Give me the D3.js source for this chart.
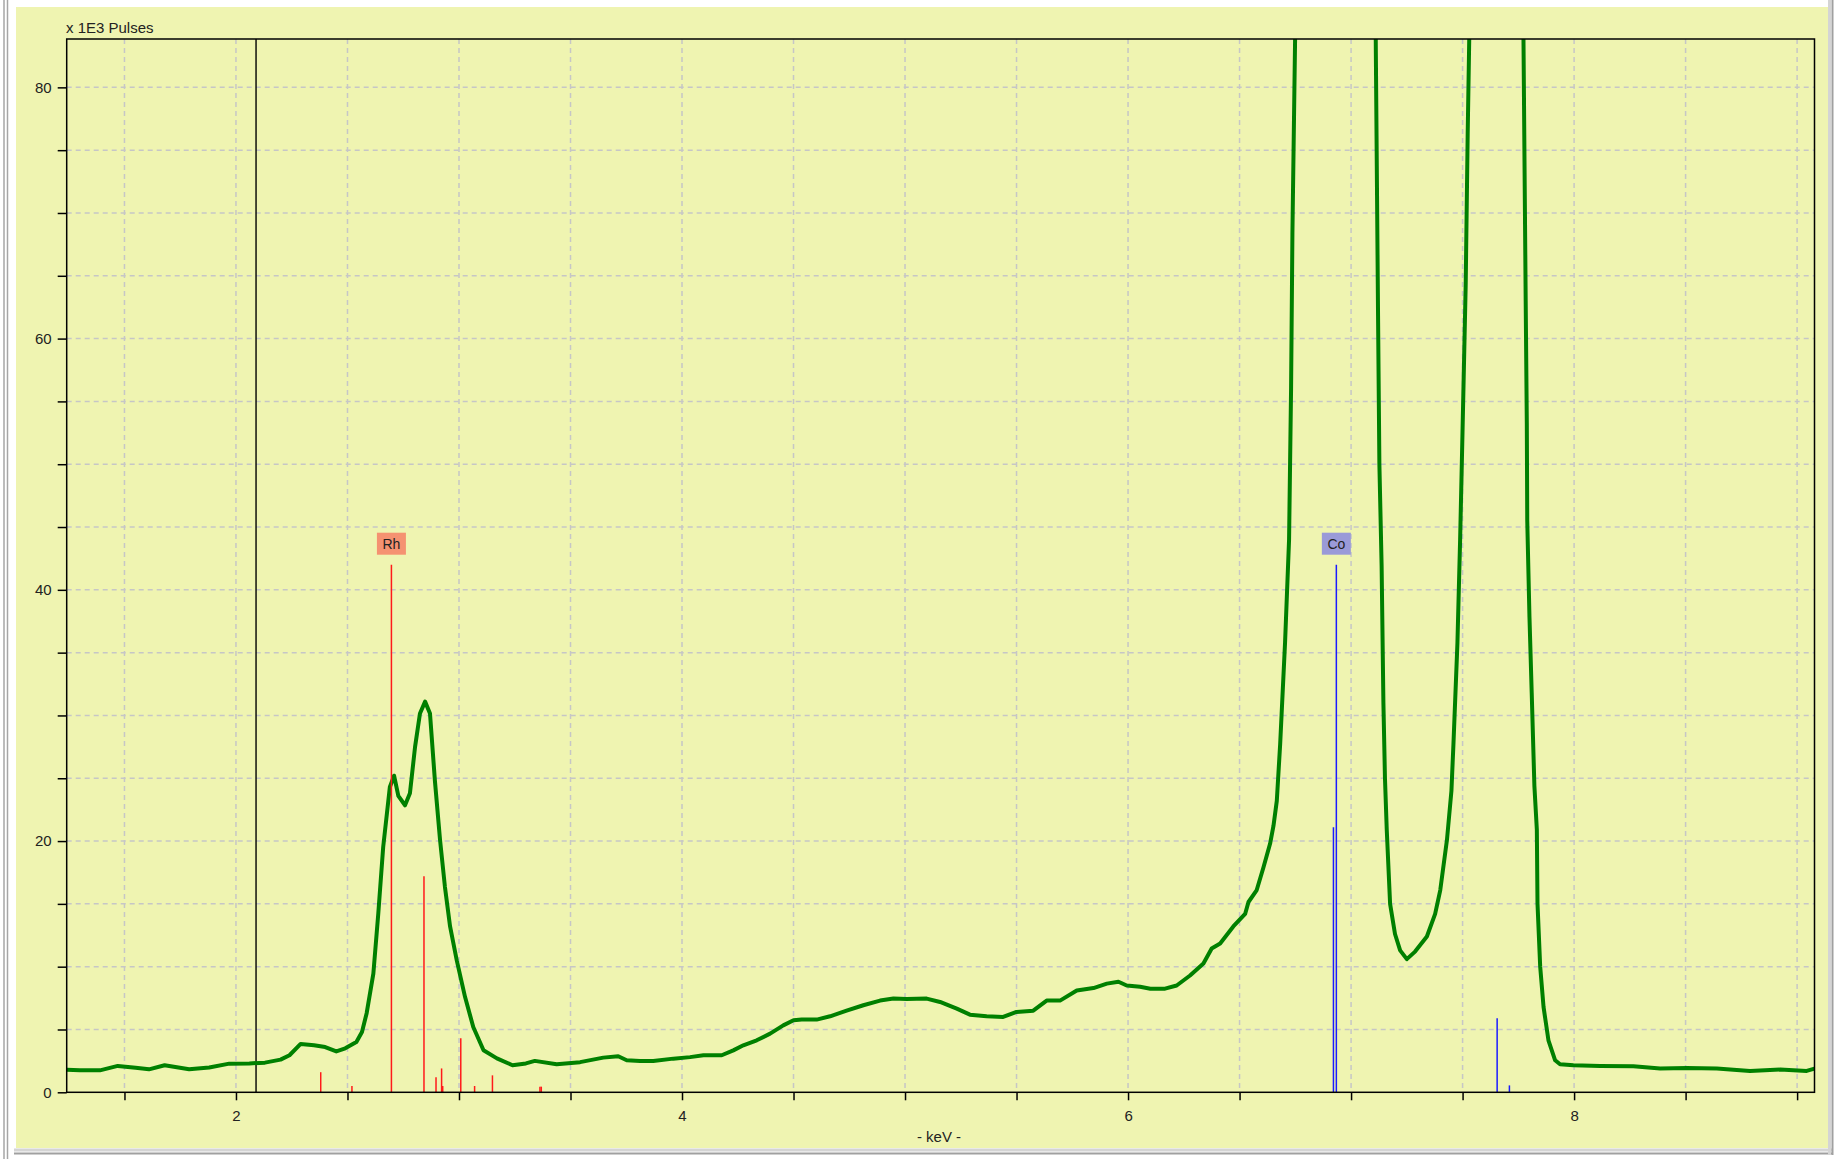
<!DOCTYPE html>
<html>
<head>
<meta charset="utf-8">
<script src="https://cdn.jsdelivr.net/npm/d3@7"></script>
<style>
  body { margin: 0; background: #fff; }
  svg { display: block; font-family: "Liberation Sans", Arial, sans-serif; }
</style>
</head>
<body>
<div id="container"></div>
<script>
/* CONSTANTS AND GLOBALS */
const width = 1839;
const height = 1159;
const margin = ({top: 39, right: 24.5, bottom: 66.7, left: 66.7});

/* DATA (counts in 1E3 pulses) */
const spectrumKeV = [
  1.241, 1.30, 1.39, 1.47, 1.55, 1.61, 1.68, 1.79, 1.88, 1.97, 2.06, 2.13, 2.20, 2.24,
  2.29, 2.35, 2.40, 2.45, 2.49, 2.54, 2.565, 2.586, 2.616, 2.638, 2.66, 2.69, 2.709,
  2.728, 2.758, 2.78, 2.803, 2.825, 2.848, 2.87, 2.892, 2.915, 2.937, 2.96, 2.99, 3.027,
  3.064, 3.11, 3.17, 3.24, 3.30, 3.34, 3.438, 3.543, 3.647, 3.714, 3.752, 3.812, 3.871,
  3.961, 4.036, 4.096, 4.178, 4.23, 4.275, 4.335, 4.395, 4.454, 4.50, 4.537, 4.604,
  4.664, 4.738, 4.813, 4.888, 4.948, 5.007, 5.097, 5.157, 5.232, 5.291, 5.366, 5.44,
  5.50, 5.575, 5.635, 5.695, 5.77, 5.845, 5.905, 5.957, 5.994, 6.054, 6.10, 6.166,
  6.218, 6.278, 6.338, 6.375, 6.413, 6.472, 6.525, 6.54, 6.577, 6.607, 6.637, 6.652,
  6.667, 6.682, 6.704, 6.722, 6.731, 6.737, 6.749, 6.77, 6.93, 7.09, 7.111, 7.121,
  7.127, 7.137, 7.145, 7.152, 7.16, 7.175, 7.197, 7.22, 7.25, 7.287, 7.34, 7.377, 7.40,
  7.43, 7.45, 7.459, 7.477, 7.489, 7.499, 7.514, 7.523, 7.53, 7.55, 7.65, 7.75, 7.773,
  7.783, 7.788, 7.79, 7.80, 7.81, 7.822, 7.833, 7.836, 7.848, 7.863, 7.885, 7.915,
  7.937, 7.997, 8.117, 8.266, 8.386, 8.505, 8.64, 8.789, 8.924, 9.043, 9.078
];
const spectrumCounts = [
  1.8, 1.75, 1.75, 2.1, 1.95, 1.83, 2.15, 1.83, 1.97, 2.28, 2.3, 2.36, 2.6, 2.95,
  3.85, 3.75, 3.6, 3.25, 3.5, 4.0, 4.8, 6.3, 9.45, 14.2, 19.5, 24.3, 25.2,
  23.6, 22.85, 23.8, 27.5, 30.15, 31.1, 30.15, 24.8, 20.1, 16.35, 13.2, 10.5, 7.6,
  5.2, 3.35, 2.7, 2.15, 2.3, 2.5, 2.23, 2.4, 2.76, 2.87, 2.55, 2.5, 2.5,
  2.68, 2.8, 2.95, 2.95, 3.34, 3.74, 4.14, 4.67, 5.33, 5.73, 5.8, 5.79,
  6.05, 6.5, 6.93, 7.3, 7.46, 7.42, 7.46, 7.19, 6.66, 6.18, 6.05, 6.0,
  6.4, 6.5, 7.3, 7.3, 8.1, 8.3, 8.65, 8.8, 8.5, 8.4, 8.25, 8.25,
  8.5, 9.3, 10.25, 11.45, 11.85, 13.2, 14.2, 15.15, 16.1, 17.9, 19.8, 21.2,
  23.2, 27.7, 35.8, 44, 56, 68.3, 83.8, 140, 650, 140, 83, 61.8,
  50, 41.9, 31, 25, 20.9, 15.0, 12.6, 11.3, 10.6, 11.2, 12.4, 14.2, 16.1,
  20.1, 24, 27.7, 35.8, 44, 52, 64.3, 76.4, 84, 110, 160, 110, 84,
  63, 53.3, 45.5, 37.8, 31.8, 24.4, 20.9, 15.0, 10.0, 6.8, 4.14, 2.55,
  2.23, 2.15, 2.1, 2.07, 1.89, 1.94, 1.89, 1.7, 1.81, 1.7, 1.89
];

const rhEnergies = [2.38, 2.52, 2.697, 2.843, 2.897, 2.922, 2.927, 3.008, 3.07, 3.15, 3.363, 3.369];
const rhHeights  = [1.6, 0.5, 42, 17.2, 1.2, 1.9, 0.5, 4.3, 0.5, 1.35, 0.45, 0.45];
const coEnergies = [6.921, 6.934, 7.655, 7.71];
const coHeights  = [21.1, 42, 5.9, 0.55];

const elementNames = ["Rh", "Co"];
const xTickLabels = [2, 4, 6, 8];
const yTickLabels = [0, 20, 40, 60, 80];
const cursorKeV = 2.09;

/* SCALES */
const xScale = d3.scaleLinear()
  .domain([1.241, 9.078])
  .range([margin.left, width - margin.right]);

const yScale = d3.scaleLinear()
  .domain([0, 83.85])
  .range([height - margin.bottom, margin.top]);

/* HTML ELEMENTS */
const svg = d3.select("#container")
  .append("svg")
  .attr("width", width)
  .attr("height", height);

// window frame + yellow panel
svg.append("rect")
  .attr("x", 16).attr("y", 7)
  .attr("width", 1812).attr("height", 1141)
  .attr("fill", "#eff4b1");

const frame = svg.append("g").attr("fill", "none");
frame.append("line").attr("x1", 4).attr("x2", 4).attr("y1", 0).attr("y2", height)
  .attr("stroke", "#a6a6a6").attr("stroke-width", 1.5);
frame.append("line").attr("x1", 7.5).attr("x2", 7.5).attr("y1", 0).attr("y2", height)
  .attr("stroke", "#a6a6a6").attr("stroke-width", 1.5);
frame.append("line").attr("x1", 14).attr("x2", 1833).attr("y1", 1150).attr("y2", 1150)
  .attr("stroke", "#d4d4d4").attr("stroke-width", 3);
frame.append("line").attr("x1", 14).attr("x2", 1833).attr("y1", 1153.5).attr("y2", 1153.5)
  .attr("stroke", "#a0a0a0").attr("stroke-width", 2);
frame.append("line").attr("x1", 1829.5).attr("x2", 1829.5).attr("y1", 0).attr("y2", 1155)
  .attr("stroke", "#d4d4d4").attr("stroke-width", 3);
frame.append("line").attr("x1", 1832.5).attr("x2", 1832.5).attr("y1", 0).attr("y2", 1155)
  .attr("stroke", "#a0a0a0").attr("stroke-width", 2);

// grid
const gridX = d3.range(1.5, 9.01, 0.5);
const gridY = d3.range(5, 81, 5);

svg.append("g")
  .selectAll("line")
  .data(gridX)
  .join("line")
  .attr("x1", d => xScale(d)).attr("x2", d => xScale(d))
  .attr("y1", margin.top).attr("y2", height - margin.bottom)
  .attr("stroke", "#c6c6c6").attr("stroke-width", 1.5)
  .attr("stroke-dasharray", "5,4");

svg.append("g")
  .selectAll("line")
  .data(gridY)
  .join("line")
  .attr("x1", margin.left).attr("x2", width - margin.right)
  .attr("y1", d => yScale(d)).attr("y2", d => yScale(d))
  .attr("stroke", "#c6c6c6").attr("stroke-width", 1.5)
  .attr("stroke-dasharray", "5,4");

// clip to plot area
svg.append("clipPath")
  .attr("id", "plot-clip")
  .append("rect")
  .attr("x", margin.left).attr("y", margin.top)
  .attr("width", width - margin.left - margin.right)
  .attr("height", height - margin.top - margin.bottom);

// cursor line
svg.append("line")
  .attr("x1", xScale(cursorKeV)).attr("x2", xScale(cursorKeV))
  .attr("y1", margin.top).attr("y2", height - margin.bottom)
  .attr("stroke", "#000").attr("stroke-width", 1.4);

// spectrum
const spectrum = spectrumKeV.map((k, i) => ({keV: k, count: spectrumCounts[i]}));

const line = d3.line()
  .x(d => xScale(d.keV))
  .y(d => yScale(d.count));

svg.append("path")
  .datum(spectrum)
  .attr("clip-path", "url(#plot-clip)")
  .attr("d", line)
  .attr("fill", "none")
  .attr("stroke", "#008000")
  .attr("stroke-width", 4)
  .attr("stroke-linejoin", "round");

// element marker lines
const elements = [
  {name: elementNames[0], color: "#ff1a1a", box: "#f59271", energies: rhEnergies, heights: rhHeights},
  {name: elementNames[1], color: "#1a1aff", box: "#9a9ad8", energies: coEnergies, heights: coHeights}
];

elements.forEach(el => {
  const lines = el.energies.map((e, i) => ({e: e, h: el.heights[i]}));
  svg.append("g")
    .selectAll("line")
    .data(lines)
    .join("line")
    .attr("x1", d => xScale(d.e)).attr("x2", d => xScale(d.e))
    .attr("y1", yScale(0)).attr("y2", d => yScale(d.h))
    .attr("stroke", el.color)
    .attr("stroke-width", 1.5);

  const main = lines.reduce((a, b) => (b.h > a.h ? b : a));
  const lab = svg.append("g")
    .attr("transform", `translate(${xScale(main.e)}, ${yScale(main.h) - 10})`);
  lab.append("rect")
    .attr("x", -14.5).attr("y", -22)
    .attr("width", 29).attr("height", 22)
    .attr("fill", el.box);
  lab.append("text")
    .attr("x", 0).attr("y", -6)
    .attr("text-anchor", "middle")
    .attr("font-size", 14)
    .attr("fill", "#222")
    .text(el.name);
});

/* AXES */
const xAxis = d3.axisBottom(xScale)
  .tickValues(gridX)
  .tickSize(8)
  .tickPadding(10)
  .tickFormat(d => xTickLabels.includes(d) ? d : "");

const yAxis = d3.axisLeft(yScale)
  .tickValues([0].concat(gridY))
  .tickSize(9)
  .tickPadding(6)
  .tickFormat(d => yTickLabels.includes(d) ? d : "");

svg.append("g")
  .attr("transform", `translate(0, ${height - margin.bottom})`)
  .call(xAxis)
  .call(g => g.select(".domain").remove())
  .call(g => g.selectAll(".tick line").attr("stroke-width", 1.5))
  .selectAll(".tick text")
  .attr("font-size", 15)
  .attr("font-family", "Liberation Sans, Arial, sans-serif")
  .attr("fill", "#222");

svg.append("g")
  .attr("transform", `translate(${margin.left}, 0)`)
  .call(yAxis)
  .call(g => g.select(".domain").remove())
  .call(g => g.selectAll(".tick line").attr("stroke-width", 1.5))
  .selectAll(".tick text")
  .attr("font-size", 15)
  .attr("font-family", "Liberation Sans, Arial, sans-serif")
  .attr("fill", "#222");

// plot frame
svg.append("rect")
  .attr("x", margin.left).attr("y", margin.top)
  .attr("width", width - margin.left - margin.right)
  .attr("height", height - margin.top - margin.bottom)
  .attr("fill", "none")
  .attr("stroke", "#000")
  .attr("stroke-width", 1.5);

// titles
svg.append("text")
  .attr("x", 66)
  .attr("y", 33)
  .attr("font-size", 15)
  .attr("fill", "#222")
  .text("x 1E3 Pulses");

svg.append("text")
  .attr("x", 939)
  .attr("y", 1142)
  .attr("text-anchor", "middle")
  .attr("font-size", 15)
  .attr("fill", "#222")
  .text("- keV -");
</script>
</body>
</html>
